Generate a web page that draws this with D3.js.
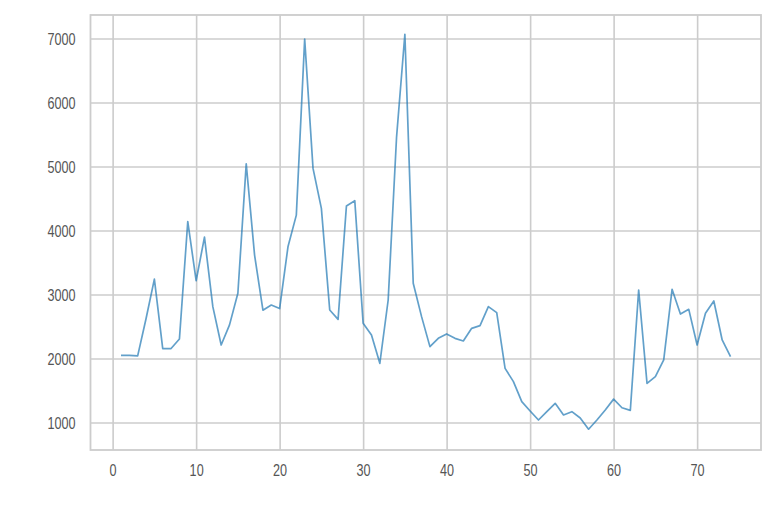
<!DOCTYPE html>
<html>
<head>
<meta charset="utf-8">
<script src="https://cdn.jsdelivr.net/npm/d3@7"></script>
<style>
  html, body { margin: 0; padding: 0; background: #fff; }
  svg { display: block; }
  .tick text { font-family: "Liberation Sans", Arial, sans-serif; }
</style>
</head>
<body>
<svg id="chart" width="782" height="506"></svg>
<script>
// Data
const xValues = [1,2,3,4,5,6,7,8,9,10,11,12,13,14,15,16,17,18,19,20,
  21,22,23,24,25,26,27,28,29,30,31,32,33,34,35,36,37,38,39,40,
  41,42,43,44,45,46,47,48,49,50,51,52,53,54,55,56,57,58,59,60,
  61,62,63,64,65,66,67,68,69,70,71,72,73,74];
const yValues = [2050,2050,2040,2620,3240,2155,2155,2305,4140,3215,
  3895,2810,2210,2525,3020,5040,3615,2755,2835,2780,
  3745,4240,6990,4970,4345,2758,2612,4383,4466,2550,
  2367,1924,2914,5450,7066,3175,2654,2185,2315,2383,
  2315,2273,2471,2513,2810,2716,1846,1638,1325,1180,
  1039,1169,1300,1117,1169,1070,895,1039,1195,1365,
  1230,1190,3070,1612,1716,1977,3081,2695,2768,2211,
  2706,2898,2289,2029];
const xTicks = [0,10,20,30,40,50,60,70];
const yTicks = [1000,2000,3000,4000,5000,6000,7000];

(function () {
const data = xValues.map((x, i) => ({x, y: yValues[i]}));

const svg = d3.select("#chart");
const mLeft = 90.5, mRight = 761, mTop = 15, mBottom = 450;

// matplotlib-style 5% margins
const xExt = d3.extent(xValues), yDom = [570, 7367];
const xPad = (xExt[1] - xExt[0]) * 0.05;
const x = d3.scaleLinear().domain([xExt[0] - xPad, xExt[1] + xPad]).range([mLeft, mRight]);
const y = d3.scaleLinear().domain(yDom).range([mBottom, mTop]);

const gridColor = "#cccccc";
const textColor = "#555555";
const sx = 0.8;

const xAxis = svg.append("g")
  .attr("transform", `translate(0,${mBottom})`)
  .call(d3.axisBottom(x).tickValues(xTicks).tickSize(-(mBottom - mTop)).tickPadding(14).tickFormat(d3.format("d")));
const yAxis = svg.append("g")
  .attr("transform", `translate(${mLeft},0)`)
  .call(d3.axisLeft(y).tickValues(yTicks).tickSize(-(mRight - mLeft)).tickPadding(15).tickFormat(d3.format("d")));

[xAxis, yAxis].forEach(g => {
  g.select(".domain").remove();
  g.selectAll(".tick line").attr("stroke", gridColor).attr("stroke-width", 1.6);
  g.selectAll(".tick text").attr("fill", textColor).attr("font-size", 15.8)
    .attr("transform", `scale(${sx},1)`);
});
yAxis.selectAll(".tick text").attr("dy", "0.36em").attr("x", -15 / sx);
xAxis.selectAll(".tick text").attr("y", 14).attr("dy", "0.76em");

svg.append("rect")
  .attr("x", mLeft).attr("y", mTop)
  .attr("width", mRight - mLeft).attr("height", mBottom - mTop)
  .attr("fill", "none").attr("stroke", gridColor).attr("stroke-width", 1.8);

const line = d3.line().x(d => x(d.x)).y(d => y(d.y));
svg.append("path")
  .datum(data)
  .attr("fill", "none")
  .attr("stroke", "#1f77b4")
  .attr("stroke-opacity", 0.7)
  .attr("stroke-width", 1.7)
  .attr("stroke-linejoin", "round")
  .attr("d", line);
})();
</script>
</body>
</html>
